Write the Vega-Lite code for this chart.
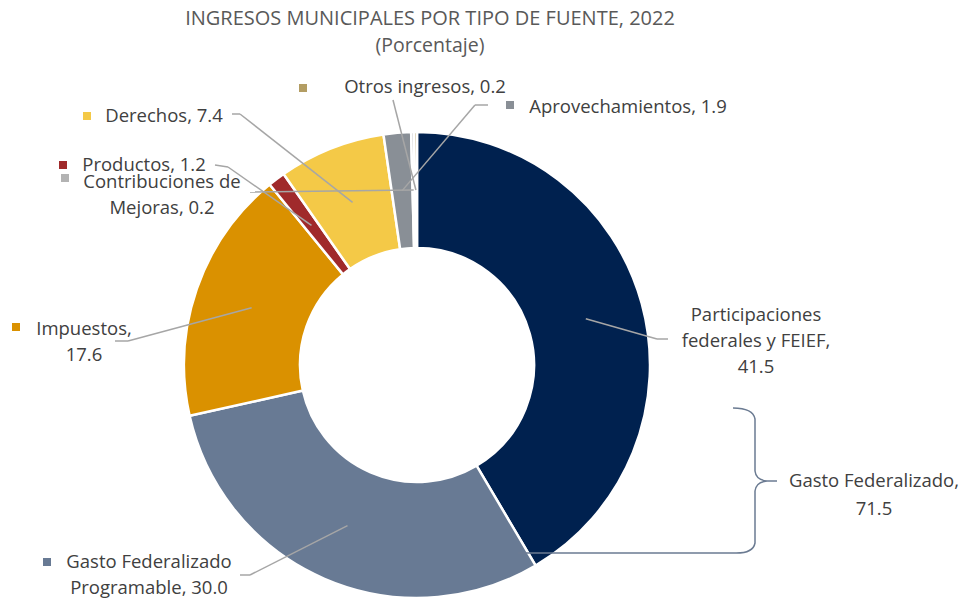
{
  "$schema": "https://vega.github.io/schema/vega-lite/v6.json",
  "width": 834,
  "height": 614,
  "autosize": {"type": "none"},
  "padding": {"left": 0, "top": 58, "right": 130, "bottom": 0},
  "background": "white",
  "config": {"view": {"stroke": null}},
  "title": {
    "text": "INGRESOS MUNICIPALES POR TIPO DE FUENTE, 2022",
    "subtitle": "(Porcentaje)",
    "font": "Open Sans",
    "fontSize": 20,
    "fontWeight": "normal",
    "color": "#595959",
    "subtitleFont": "Open Sans",
    "subtitleFontSize": 19.5,
    "subtitleColor": "#595959",
    "subtitlePadding": 8,
    "anchor": "middle",
    "frame": "group",
    "offset": 3,
    "dx": 13
  },
  "data": {
    "values": [
      {"fuente": "Participaciones federales y FEIEF", "nombre": "Participaciones\nfederales y FEIEF,\n", "valor": 41.5, "orden": 1},
      {"fuente": "Gasto Federalizado Programable", "nombre": "Gasto Federalizado\nProgramable, ", "valor": 30.0, "orden": 2},
      {"fuente": "Impuestos", "nombre": "Impuestos,\n", "valor": 17.6, "orden": 3},
      {"fuente": "Productos", "nombre": "Productos, ", "valor": 1.2, "orden": 4},
      {"fuente": "Derechos", "nombre": "Derechos, ", "valor": 7.4, "orden": 5},
      {"fuente": "Aprovechamientos", "nombre": "Aprovechamientos, ", "valor": 1.9, "orden": 6},
      {"fuente": "Contribuciones de Mejoras", "nombre": "Contribuciones de\nMejoras, ", "valor": 0.2, "orden": 7},
      {"fuente": "Otros ingresos", "nombre": "Otros ingresos, ", "valor": 0.2, "orden": 8}
    ]
  },
  "transform": [
    {"window": [{"op": "sum", "field": "valor", "as": "acum"}], "sort": [{"field": "orden"}], "frame": [null, 0]},
    {"calculate": "(datum.acum - datum.valor / 2) * PI / 50", "as": "ang"},
    {"calculate": "175 * sin(datum.ang)", "as": "x0"},
    {"calculate": "175 * cos(datum.ang)", "as": "y0"},
    {"calculate": "datum.nombre + format(datum.valor, '.1f')", "as": "texto"},
    {"calculate": "{'Participaciones federales y FEIEF': [339, 50, 240, 26, 251, 26, null, null], 'Gasto Federalizado Programable': [-268, -197, -167, -210, -177, -210, -370, -197], 'Impuestos': [-333, 36, -289, 24, -302, 24, -401, 38], 'Productos': [-273, 200, -189, 198, -202, 200, -354, 200], 'Contribuciones de Mejoras': [-255, 183, -167, 173, -167, 173, -352, 187], 'Derechos': [-253, 249, -177, 251, -185, 251, -330, 249], 'Otros ingresos': [8, 278, -24, 265, -24, 265, -114, 277], 'Aprovechamientos': [211, 258, 58, 260, 71, 260, 93, 260]}[datum.fuente]", "as": "geo"},
    {"calculate": "datum.geo[0]", "as": "tx"},
    {"calculate": "datum.geo[1]", "as": "ty"},
    {"calculate": "datum.geo[2]", "as": "ex"},
    {"calculate": "datum.geo[3]", "as": "ey"},
    {"calculate": "datum.geo[4]", "as": "lx"},
    {"calculate": "datum.geo[5]", "as": "ly"},
    {"calculate": "datum.geo[6]", "as": "sx"},
    {"calculate": "datum.geo[7]", "as": "sy"}
  ],
  "layer": [
    {
      "mark": {"type": "arc", "innerRadius": 117, "outerRadius": 233, "stroke": "white", "strokeWidth": 2.5},
      "encoding": {
        "theta": {"field": "valor", "type": "quantitative", "stack": true},
        "order": {"field": "orden", "type": "quantitative"},
        "color": {
          "field": "fuente",
          "type": "nominal",
          "legend": null,
          "scale": {
            "domain": ["Participaciones federales y FEIEF", "Gasto Federalizado Programable", "Impuestos", "Productos", "Derechos", "Aprovechamientos", "Contribuciones de Mejoras", "Otros ingresos"],
            "range": ["#00214F", "#687A94", "#DA9100", "#A02A2B", "#F4C947", "#898F96", "#B3B3B3", "#B39D63"]
          }
        }
      }
    },
    {
      "mark": {"type": "rule", "color": "#A6A6A6", "strokeWidth": 1.5},
      "encoding": {
        "x": {"field": "x0", "type": "quantitative", "scale": {"domain": [-417, 417], "nice": false, "zero": false}, "axis": null},
        "y": {"field": "y0", "type": "quantitative", "scale": {"domain": [-307, 307], "nice": false, "zero": false}, "axis": null},
        "x2": {"field": "ex"},
        "y2": {"field": "ey"}
      }
    },
    {
      "mark": {"type": "rule", "color": "#A6A6A6", "strokeWidth": 1.5},
      "encoding": {
        "x": {"field": "ex", "type": "quantitative", "scale": {"domain": [-417, 417], "nice": false, "zero": false}, "axis": null},
        "y": {"field": "ey", "type": "quantitative", "scale": {"domain": [-307, 307], "nice": false, "zero": false}, "axis": null},
        "x2": {"field": "lx"},
        "y2": {"field": "ly"}
      }
    },
    {
      "transform": [{"filter": "datum.sx != null"}],
      "mark": {"type": "point", "shape": "square", "filled": true, "size": 64, "opacity": 1},
      "encoding": {
        "x": {"field": "sx", "type": "quantitative", "scale": {"domain": [-417, 417], "nice": false, "zero": false}, "axis": null},
        "y": {"field": "sy", "type": "quantitative", "scale": {"domain": [-307, 307], "nice": false, "zero": false}, "axis": null},
        "color": {"field": "fuente", "type": "nominal", "legend": null}
      }
    },
    {
      "mark": {"type": "text", "font": "Open Sans", "fontSize": 18.5, "color": "#404040", "lineBreak": "\n", "lineHeight": 26, "align": "center", "baseline": "middle"},
      "encoding": {
        "x": {"field": "tx", "type": "quantitative", "scale": {"domain": [-417, 417], "nice": false, "zero": false}, "axis": null},
        "y": {"field": "ty", "type": "quantitative", "scale": {"domain": [-307, 307], "nice": false, "zero": false}, "axis": null},
        "text": {"field": "texto", "type": "nominal"}
      }
    },
    {
      "transform": [
        {"filter": "datum.orden <= 2"},
        {"aggregate": [{"op": "sum", "field": "valor", "as": "total"}]},
        {"calculate": "'Gasto Federalizado,\\n' + format(datum.total, '.1f')", "as": "texto"}
      ],
      "layer": [
        {
          "mark": {"type": "text", "font": "Open Sans", "fontSize": 18.5, "color": "#404040", "lineBreak": "\n", "lineHeight": 28, "align": "center", "baseline": "middle"},
          "encoding": {
            "x": {"datum": 457, "type": "quantitative", "scale": {"domain": [-417, 417], "nice": false, "zero": false}, "axis": null},
            "y": {"datum": -116, "type": "quantitative", "scale": {"domain": [-307, 307], "nice": false, "zero": false}, "axis": null},
            "text": {"field": "texto", "type": "nominal"}
          }
        },
        {
          "mark": {"type": "point", "shape": "M-237,72 L-22,72 Q-2,73 0,62 L0,10 Q1,1 12,0 L22,0 M12,0 Q1,-1 0,-10 L0,-62 Q-2,-73 -22,-73", "size": 4, "filled": false, "stroke": "#6B7B92", "strokeWidth": 1.5, "opacity": 1},
          "encoding": {
            "x": {"datum": 338, "type": "quantitative", "scale": {"domain": [-417, 417], "nice": false, "zero": false}, "axis": null},
            "y": {"datum": -116, "type": "quantitative", "scale": {"domain": [-307, 307], "nice": false, "zero": false}, "axis": null}
          }
        }
      ]
    }
  ]
}
